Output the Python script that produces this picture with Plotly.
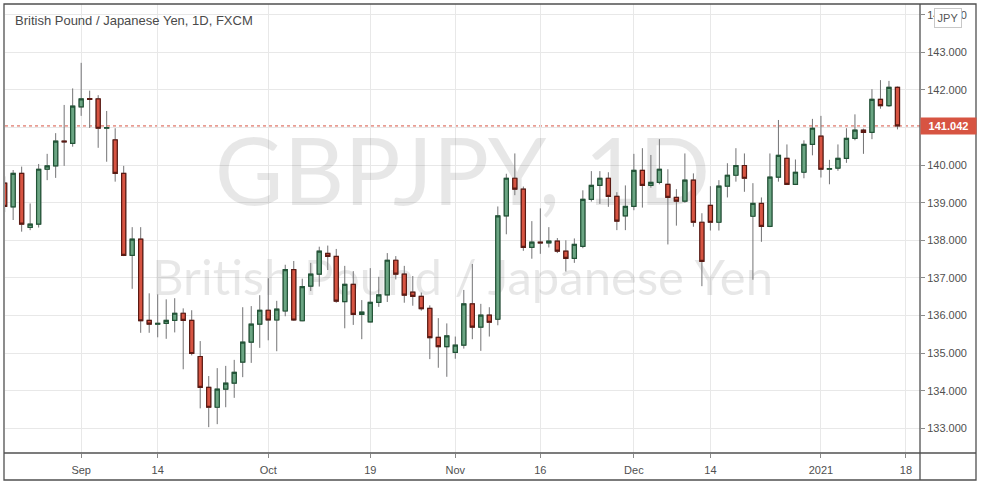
import plotly.graph_objects as go

# ---------------- data ----------------
dates = [
    "2020-08-19", "2020-08-20", "2020-08-21", "2020-08-24", "2020-08-25", "2020-08-26", "2020-08-27", "2020-08-28", "2020-08-31",
    "2020-09-01", "2020-09-02", "2020-09-03", "2020-09-04", "2020-09-07", "2020-09-08", "2020-09-09", "2020-09-10", "2020-09-11",
    "2020-09-14", "2020-09-15", "2020-09-16", "2020-09-17", "2020-09-18", "2020-09-21", "2020-09-22", "2020-09-23", "2020-09-24",
    "2020-09-25", "2020-09-28", "2020-09-29", "2020-09-30",
    "2020-10-01", "2020-10-02", "2020-10-05", "2020-10-06", "2020-10-07", "2020-10-08", "2020-10-09", "2020-10-12", "2020-10-13",
    "2020-10-14", "2020-10-15", "2020-10-16", "2020-10-19", "2020-10-20", "2020-10-21", "2020-10-22", "2020-10-23", "2020-10-26",
    "2020-10-27", "2020-10-28", "2020-10-29", "2020-10-30",
    "2020-11-02", "2020-11-03", "2020-11-04", "2020-11-05", "2020-11-06", "2020-11-09", "2020-11-10", "2020-11-11", "2020-11-12",
    "2020-11-13", "2020-11-16", "2020-11-17", "2020-11-18", "2020-11-19", "2020-11-20", "2020-11-23", "2020-11-24", "2020-11-25",
    "2020-11-26", "2020-11-27", "2020-11-30",
    "2020-12-01", "2020-12-02", "2020-12-03", "2020-12-04", "2020-12-07", "2020-12-08", "2020-12-09", "2020-12-10", "2020-12-11",
    "2020-12-14", "2020-12-15", "2020-12-16", "2020-12-17", "2020-12-18", "2020-12-21", "2020-12-22", "2020-12-23", "2020-12-24",
    "2020-12-28", "2020-12-29", "2020-12-30", "2020-12-31",
    "2021-01-04", "2021-01-05", "2021-01-06", "2021-01-07", "2021-01-08", "2021-01-11", "2021-01-12", "2021-01-13", "2021-01-14",
    "2021-01-15",
]

opens = [
    139.52, 138.89, 139.78, 138.34, 138.43, 139.89, 139.98, 140.64, 140.58,
    141.55, 141.77, 141.76, 140.98, 140.67, 139.78, 137.60, 138.03, 135.87,
    135.77, 135.79, 135.87, 136.06, 135.87, 134.91, 134.09, 133.56, 134.04,
    134.20, 134.76, 135.29, 135.77,
    136.14, 135.88, 136.12, 137.22, 135.86, 136.78, 137.10, 137.65, 137.57,
    136.37, 136.83, 136.03, 135.83, 136.35, 136.55, 137.47, 137.10, 136.62,
    136.51, 136.19, 135.42, 135.17,
    135.02, 135.21, 136.31, 135.69, 136.01, 135.90, 138.65, 139.65, 139.36,
    137.81, 137.95, 137.93, 137.98, 137.71, 137.52, 137.84, 139.09, 139.46,
    139.65, 139.17, 138.65,
    138.90, 139.86, 139.46, 139.54, 139.49, 139.14, 139.04, 139.60, 138.48,
    138.93, 138.48, 139.44, 139.73, 139.99, 138.64, 138.98, 138.37, 139.68,
    140.18, 139.49, 139.81, 140.55,
    140.77, 139.89, 139.92, 140.18, 140.71, 140.93, 140.87, 141.75, 141.58,
    142.07,
]

highs = [
    139.70, 139.87, 139.96, 138.98, 140.03, 140.30, 140.85, 141.60, 142.04,
    142.72, 141.98, 141.86, 141.44, 140.98, 139.98, 138.35, 138.35, 136.59,
    136.56, 136.43, 136.46, 136.19, 136.14, 135.32, 134.39, 134.60, 134.66,
    134.82, 136.22, 136.25, 136.54,
    136.99, 136.39, 137.35, 137.45, 136.98, 137.40, 137.83, 137.86, 137.77,
    137.32, 137.18, 136.41, 137.26, 137.03, 137.66, 137.58, 137.32, 137.05,
    136.61, 136.27, 135.93, 135.79,
    135.44, 136.68, 137.37, 136.31, 136.22, 138.90, 139.77, 140.31, 139.43,
    138.51, 138.85, 138.35, 138.06, 138.00, 138.05, 139.33, 139.84, 139.84,
    139.81, 139.28, 139.46,
    140.30, 140.45, 140.27, 140.69, 139.89, 139.36, 140.31, 139.78, 138.72,
    139.44, 139.60, 140.05, 140.45, 140.31, 139.52, 139.14, 140.31, 141.20,
    140.55, 140.15, 140.66, 141.23,
    141.31, 140.14, 140.55, 140.98, 141.35, 140.97, 142.02, 142.26, 142.24,
    142.09,
]

lows = [
    138.75, 138.54, 138.23, 138.27, 138.34, 139.60, 139.66, 139.98, 140.49,
    141.31, 140.99, 140.46, 140.09, 139.56, 137.58, 136.71, 135.54, 135.54,
    135.42, 135.38, 135.55, 134.57, 134.94, 133.53, 133.03, 133.11, 133.56,
    133.81, 134.36, 134.74, 135.14,
    135.34, 135.05, 135.98, 135.86, 135.85, 136.65, 136.77, 137.21, 136.34,
    135.66, 135.75, 135.37, 135.82, 136.23, 136.36, 136.96, 136.34, 136.26,
    136.13, 134.84, 134.61, 134.37,
    134.85, 135.12, 135.37, 135.06, 135.44, 135.74, 138.16, 139.20, 137.72,
    137.51, 137.64, 137.81, 137.66, 137.17, 137.40, 137.79, 139.03, 138.97,
    138.89, 138.27, 138.27,
    138.80, 138.87, 139.40, 139.49, 137.89, 138.39, 139.00, 138.36, 136.78,
    138.26, 138.26, 139.14, 139.56, 139.29, 136.95, 137.96, 138.35, 139.56,
    139.47, 139.47, 139.65, 140.26,
    139.67, 139.49, 139.85, 140.06, 140.66, 140.30, 140.69, 141.50, 141.55,
    140.95,
]

closes = [
    138.90, 139.78, 138.43, 138.43, 139.89, 139.98, 140.64, 140.62, 141.57,
    141.76, 141.75, 140.98, 141.00, 139.78, 137.60, 138.03, 135.86, 135.77,
    135.79, 135.87, 136.06, 135.87, 134.99, 134.09, 133.56, 134.04, 134.20,
    134.49, 135.29, 135.77, 136.14,
    135.88, 136.17, 137.22, 135.88, 136.77, 137.10, 137.71, 137.57, 136.38,
    136.83, 136.03, 136.09, 136.35, 136.55, 137.47, 137.10, 136.54, 136.51,
    136.18, 135.41, 135.17, 135.46,
    135.21, 136.31, 135.69, 136.01, 135.82, 138.65, 139.65, 139.36, 137.81,
    137.95, 137.93, 137.98, 137.71, 137.52, 137.89, 139.09, 139.46, 139.65,
    139.17, 138.51, 138.90,
    139.86, 139.46, 139.54, 139.89, 139.14, 139.04, 139.60, 138.48, 137.44,
    138.48, 139.44, 139.73, 139.99, 139.65, 138.98, 138.37, 139.68, 140.26,
    139.49, 139.81, 140.55, 140.98,
    139.89, 139.91, 140.18, 140.71, 140.93, 140.87, 141.75, 141.58, 142.07,
    141.042,
]

tick_dates = ["2020-09-01", "2020-09-14", "2020-10-01", "2020-10-19", "2020-11-02",
              "2020-11-16", "2020-12-01", "2020-12-14", "2021-01-04", "2021-01-18"]
tick_labels = ["Sep", "14", "Oct", "19", "Nov", "16", "Dec", "14", "2021", "18"]

holidays = ["2020-12-25", "2021-01-01"]

title_text = "British Pound / Japanese Yen, 1D, FXCM"
watermark_1 = "GBPJPY, 1D"
watermark_2 = "British Pound / Japanese Yen"
currency = "JPY"

# ---------------- styling ----------------
W, H = 983, 486
PL, PR, PT, PB = 5, 920, 4, 453
UP_FILL, UP_LINE = "#6ba583", "#225437"
DN_FILL, DN_LINE = "#d75442", "#5b1a13"
WICK = "#737375"
GRID = "#e8e8e8"
FRAME = "#505050"
TXT = "#4f4f4f"
FONT = "Liberation Sans"


def px(x):
    return (x - PL) / (PR - PL)


def py(y):
    return (PB - y) / (PB - PT)


x_vals = [d + " 12:00" for d in dates]
tick_vals = [d + " 12:00" for d in tick_dates]
body_hi = [max(o, c) for o, c in zip(opens, closes)]
body_lo = [min(o, c) for o, c in zip(opens, closes)]
last_price = closes[-1]

fig = go.Figure()

# watermark on the base (lower) subplot so candles draw above it
fig.add_trace(go.Scatter(
    x=[0.5, 0.5], y=[py(181), py(283)], mode="text",
    text=[watermark_1, watermark_2],
    textposition="middle center",
    textfont=dict(family="Lato", size=[94, 49], color="rgba(0,0,0,0.095)"),
    hoverinfo="skip", showlegend=False, xaxis="x", yaxis="y",
))

# wicks
fig.add_trace(go.Candlestick(
    x=x_vals, open=opens, high=highs, low=lows, close=closes,
    increasing=dict(line=dict(color=WICK, width=1), fillcolor=WICK),
    decreasing=dict(line=dict(color=WICK, width=1), fillcolor=WICK),
    hoverinfo="skip", showlegend=False, xaxis="x2", yaxis="y2",
))
# bodies
fig.add_trace(go.Candlestick(
    x=x_vals, open=opens, high=body_hi, low=body_lo, close=closes,
    increasing=dict(line=dict(color=UP_LINE, width=1.2), fillcolor=UP_FILL),
    decreasing=dict(line=dict(color=DN_LINE, width=1.2), fillcolor=DN_FILL),
    hoverinfo="skip", showlegend=False, xaxis="x2", yaxis="y2",
))

fig.update_layout(
    width=W, height=H, autosize=False,
    margin=dict(l=PL, r=W - PR, t=PT, b=H - PB, pad=0),
    paper_bgcolor="white", plot_bgcolor="white",
    showlegend=False, boxgap=0.3, boxmode="overlay",
    font=dict(family=FONT, size=11, color=TXT),
    xaxis=dict(range=[0, 1], visible=False, fixedrange=True),
    yaxis=dict(range=[0, 1], visible=False, fixedrange=True),
    xaxis2=dict(
        overlaying="x", anchor="y2", side="bottom", type="date",
        range=["2020-08-19 13:00", "2021-01-20 03:36"],
        rangebreaks=[dict(bounds=["sat", "mon"]), dict(values=holidays)],
        rangeslider=dict(visible=False),
        tickmode="array", tickvals=tick_vals, ticktext=tick_labels,
        showgrid=True, gridcolor=GRID, gridwidth=1,
        ticks="outside", ticklen=4, tickcolor="#8a8a8a", tickwidth=1,
        ticklabelstandoff=3,
        showline=False, zeroline=False,
        tickfont=dict(family=FONT, size=11, color=TXT),
    ),
    yaxis2=dict(
        overlaying="y", anchor="x2", side="right",
        range=[132.343, 144.285],
        tickmode="linear", tick0=133, dtick=1, tickformat=".3f",
        showgrid=True, gridcolor=GRID, gridwidth=1,
        ticks="outside", ticklen=4, tickcolor="#8a8a8a", tickwidth=1,
        showline=False, zeroline=False,
        tickfont=dict(family=FONT, size=11, color=TXT),
    ),
)

shapes = [
    # last price dotted line
    dict(type="line", xref="x2 domain", yref="y2", x0=0, x1=1, y0=last_price, y1=last_price,
         line=dict(color=DN_FILL, width=1, dash="dot"), layer="below"),
    # outer frame and separators
    dict(type="rect", xref="paper", yref="paper", x0=px(4), x1=px(976), y0=py(480), y1=py(4),
         line=dict(color=FRAME, width=1.3), layer="above"),
    dict(type="line", xref="paper", yref="paper", x0=px(4), x1=px(976), y0=0, y1=0,
         line=dict(color=FRAME, width=1.3), layer="above"),
    dict(type="line", xref="paper", yref="paper", x0=1, x1=1, y0=py(480), y1=py(4),
         line=dict(color=FRAME, width=1.3), layer="above"),
]
fig.update_layout(shapes=shapes)

fig.add_annotation(
    xref="paper", yref="paper", x=px(13), y=py(21), xanchor="left", yanchor="middle",
    text=title_text, showarrow=False,
    font=dict(family=FONT, size=13, color="#4a4a4a"),
)
fig.add_annotation(
    xref="paper", yref="y2", x=1.0, y=last_price, xanchor="left", yanchor="middle",
    text="<b>%.3f</b>" % last_price, showarrow=False,
    font=dict(family=FONT, size=11, color="white"),
    bgcolor=DN_FILL, width=53, height=14, borderpad=1, align="center",
)
fig.add_annotation(
    xref="paper", yref="paper", x=px(948), y=py(18), xanchor="center", yanchor="middle",
    text=currency, showarrow=False,
    font=dict(family=FONT, size=11, color="#555555"),
    bgcolor="white", bordercolor="#c8c8c8", borderwidth=1, borderpad=2, width=22, height=14,
)

fig.write_html(
    "out.html",
    config=dict(displayModeBar=False),
    post_script="document.body.style.margin='0';document.body.style.padding='0';",
)
